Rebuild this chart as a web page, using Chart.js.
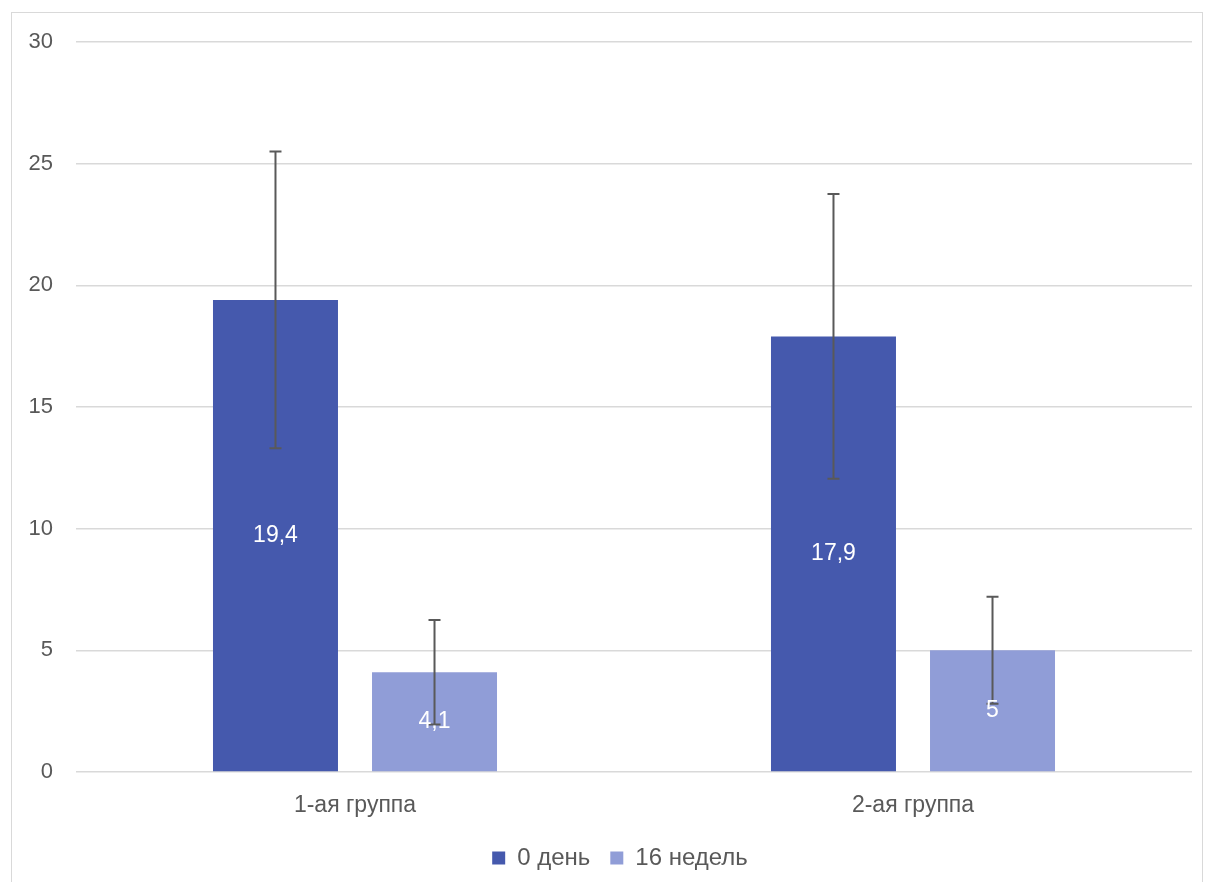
<!DOCTYPE html>
<html>
<head>
<meta charset="utf-8">
<script src="https://cdn.jsdelivr.net/npm/chart.js@4"></script>
<style>
  body { margin: 0; background: #fff; }
  #frame { position: absolute; left: 11px; top: 12px; width: 1192px; height: 900px; border: 1px solid #d9d9d9; box-sizing: border-box; }
  #wrap { position: absolute; left: 0; top: 0; width: 1211px; height: 882px; }
</style>
</head>
<body>
<div id="frame"></div>
<div id="wrap"><canvas id="chart"></canvas></div>
<script>
// data
var categories = ["1-ая группа", "2-ая группа"];
var seriesNames = ["0 день", "16 недель"];
var day0 = [19.4, 17.9];
var week16 = [4.1, 5];
var day0Err = [6.1, 5.85];
var week16Err = [2.15, 2.2];
var yTicks = [0, 5, 10, 15, 20, 25, 30];

var errors = [day0Err, week16Err];
var fontFam = '"Liberation Sans", Arial, sans-serif';

// error bars, drawn through the y scale
var errorBars = {
  id: 'errorBars',
  afterDatasetsDraw: function(chart) {
    var ctx = chart.ctx;
    var y = chart.scales.y;
    ctx.save();
    ctx.strokeStyle = '#595959';
    ctx.lineWidth = 2;
    chart.data.datasets.forEach(function(ds, i) {
      chart.getDatasetMeta(i).data.forEach(function(bar, j) {
        var v = ds.data[j], e = errors[i][j];
        var top = y.getPixelForValue(v + e);
        var bot = y.getPixelForValue(v - e);
        ctx.beginPath();
        ctx.moveTo(bar.x, top); ctx.lineTo(bar.x, bot);
        ctx.moveTo(bar.x - 6, top); ctx.lineTo(bar.x + 6, top);
        ctx.moveTo(bar.x - 6, bot); ctx.lineTo(bar.x + 6, bot);
        ctx.stroke();
      });
    });
    ctx.restore();
  }
};

// value labels in the middle of each bar
var barLabels = {
  id: 'barLabels',
  afterDatasetsDraw: function(chart) {
    var ctx = chart.ctx;
    ctx.save();
    ctx.fillStyle = '#ffffff';
    ctx.font = '23px ' + fontFam;
    ctx.textAlign = 'center';
    ctx.textBaseline = 'middle';
    chart.data.datasets.forEach(function(ds, i) {
      chart.getDatasetMeta(i).data.forEach(function(bar, j) {
        var txt = String(ds.data[j]).replace('.', ',');
        ctx.fillText(txt, bar.x, (bar.y + bar.base) / 2);
      });
    });
    ctx.restore();
  }
};

// nudge legend a bit to the right, like the original
var legendShift = {
  id: 'legendShift',
  afterLayout: function(chart) {
    if (chart.legend) {
      chart.legend.left += 24;
      chart.legend.right += 24;
    }
  }
};

new Chart(document.getElementById("chart"), {
  type: 'bar',
  data: {
    labels: categories,
    datasets: [
      { label: seriesNames[0], data: day0, backgroundColor: '#4559ad' },
      { label: seriesNames[1], data: week16, backgroundColor: '#909dd7' }
    ]
  },
  options: {
    responsive: true,
    maintainAspectRatio: false,
    animation: false,
    layout: { padding: { top: 42, right: 19, bottom: 2, left: 0 } },
    datasets: { bar: { categoryPercentage: 0.57, barPercentage: 0.786 } },
    plugins: {
      legend: {
        position: 'bottom',
        labels: {
          boxWidth: 13, boxHeight: 13, padding: 20,
          color: '#595959',
          font: { size: 24, family: fontFam }
        }
      },
      tooltip: { enabled: false }
    },
    scales: {
      x: {
        grid: { display: false, drawTicks: false },
        border: { display: false },
        ticks: { color: '#595959', padding: 20, font: { size: 23, family: fontFam } },
        afterFit: function(s) { s.height = 54; }
      },
      y: {
        min: 0, max: 30,
        afterBuildTicks: function(s) { s.ticks = yTicks.map(function(v) { return { value: v }; }); },
        grid: { color: '#d9d9d9', lineWidth: 1.5, drawTicks: false },
        border: { display: false },
        ticks: { color: '#595959', padding: 23, font: { size: 22, family: fontFam } },
        afterFit: function(s) { s.width = 76; }
      }
    }
  },
  plugins: [errorBars, barLabels, legendShift]
});
</script>
</body>
</html>
